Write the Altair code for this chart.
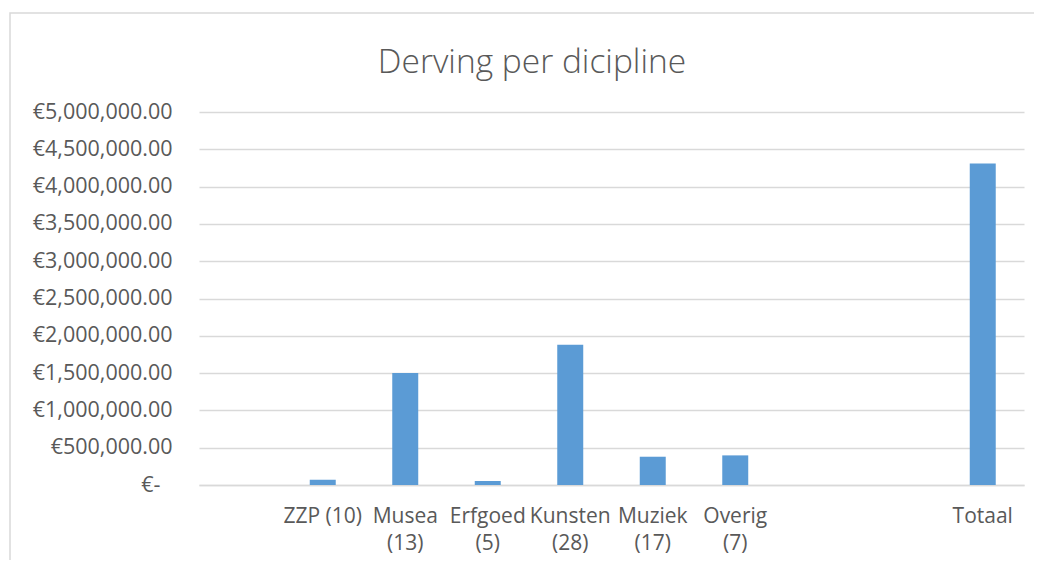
import altair as alt
import pandas as pd

# ---- data ----
categories = [" ", "ZZP (10)", "Musea\n(13)", "Erfgoed\n(5)", "Kunsten\n(28)",
              "Muziek\n(17)", "Overig\n(7)", "  ", "   ", "Totaal"]
values = [None, 71000, 1501000, 54000, 1881000, 379000, 397000, None, None, 4311000]
y_ticks = [0, 500000, 1000000, 1500000, 2000000, 2500000,
           3000000, 3500000, 4000000, 4500000, 5000000]
title_text = "Derving per dicipline"

df = pd.DataFrame({"cat": categories, "val": values})

FONT = "Open Sans"
GREY = "#595959"
GRID = "#d9d9d9"

bars = alt.Chart(df).mark_bar(color="#5b9bd5").encode(
    x=alt.X(
        "cat:N",
        sort=categories,
        scale=alt.Scale(domain=categories, paddingInner=0.685, paddingOuter=0.3425),
        axis=alt.Axis(
            title=None,
            labelAngle=0,
            labelExpr="split(datum.label, '\\n')",
            labelFont=FONT,
            labelFontSize=21,
            labelColor=GREY,
            labelLineHeight=27,
            labelPadding=20,
            labelLimit=200,
            labelOverlap=False,
            ticks=False,
            domain=True,
            domainColor=GRID,
            domainWidth=1.3,
            grid=False,
        ),
    ),
    y=alt.Y(
        "val:Q",
        scale=alt.Scale(domain=[0, 5000000], nice=False),
        axis=alt.Axis(
            title=None,
            values=y_ticks,
            labelExpr="datum.value == 0 ? '€-' : '€' + format(datum.value, ',.2f')",
            labelFont=FONT,
            labelFontSize=21.5,
            labelColor=GREY,
            labelPadding={"condition": {"test": "datum.value == 0", "value": 39}, "value": 27},
            ticks=False,
            domain=False,
            grid=True,
            gridColor=GRID,
            gridWidth=1.3,
        ),
    ),
)

deco = pd.DataFrame({"k": [0]})

border = alt.Chart(deco).mark_rect(
    fill=None, stroke=GRID, strokeWidth=1.5, clip=False
).encode(
    x=alt.value(-189), x2=alt.value(1200),
    y=alt.value(-99), y2=alt.value(700),
)

title = alt.Chart(deco).mark_text(
    font=FONT, fontSize=33.5, fontWeight=300, color=GREY,
    align="center", baseline="alphabetic", clip=False,
).encode(
    x=alt.value(333), y=alt.value(-39), text=alt.value(title_text),
)

chart = alt.layer(border, title, bars).properties(
    width=825,
    height=373,
    autosize=alt.AutoSizeParams(type="none"),
    padding={"left": 191, "top": 104, "right": 10, "bottom": 75},
).configure_view(stroke=None)

chart.save("out.html", embed_options={"renderer": "svg", "actions": False})
